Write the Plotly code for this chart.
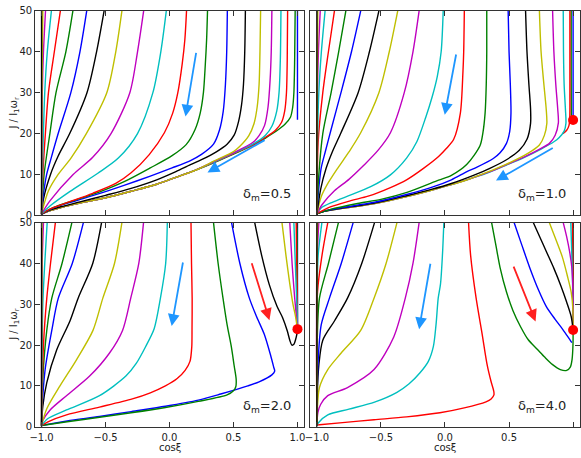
import plotly.graph_objects as go

# ---------------- data ----------------
colors = ["#0000ff", "#008000", "#ff0000", "#00bfbf", "#bf00bf", "#bfbf00", "#000000"]
x_ticks = [-1.0, -0.5, 0.0, 0.5, 1.0]
x_tick_text = ["\u22121.0", "\u22120.5", "0.0", "0.5", "1.0"]
y_ticks = [0, 10, 20, 30, 40, 50]
labels = ["\u03b4<sub>m</sub>=0.5", "\u03b4<sub>m</sub>=1.0", "\u03b4<sub>m</sub>=2.0", "\u03b4<sub>m</sub>=4.0"]

env_05 = [(0.2, 11.0), (0.05, 9.3), (-0.1, 7.6), (-0.3, 5.9), (-0.5, 4.3), (-0.7, 3.0), (-0.85, 1.9), (-0.95, 1.0), (-1.0, 0.3)]
d05 = [
    [(1.0, 50), (1.0, 23.4)],
    [(0.982, 50), (0.978, 38), (0.972, 30), (0.962, 26.3), (0.945, 24.0), (0.9, 22.2), (0.83, 20.5), (0.75, 18.9), (0.65, 17.1), (0.5, 15.0), (0.35, 12.9)] + env_05,
    [(0.923, 50), (0.92, 38), (0.914, 30), (0.9, 25.5), (0.875, 22.7), (0.83, 20.9), (0.75, 19.1), (0.65, 17.2), (0.5, 15.1), (0.35, 13.0)] + env_05,
    [(0.871, 50), (0.866, 38), (0.856, 30), (0.838, 25.5), (0.80, 21.8), (0.75, 19.6), (0.65, 17.4), (0.5, 15.2), (0.35, 13.1)] + env_05,
    [(0.80, 50), (0.795, 40), (0.786, 33), (0.77, 26.5), (0.743, 22.0), (0.70, 19.5), (0.65, 17.8), (0.5, 15.3), (0.35, 13.2)] + env_05,
    [(0.712, 50), (0.707, 40), (0.70, 32), (0.685, 26.5), (0.66, 22.4), (0.62, 19.5), (0.55, 16.9), (0.5, 15.6), (0.35, 13.3)] + env_05,
    [(0.593, 50), (0.588, 40), (0.578, 32), (0.563, 27), (0.54, 23), (0.505, 19.6), (0.45, 17.4), (0.369, 15.6), (0.25, 13.6), (0.164, 12.4), (0.05, 10.7), (-0.1, 8.7), (-0.3, 6.6), (-0.5, 4.9), (-0.7, 3.3), (-0.85, 2.1), (-0.95, 1.1), (-1.0, 0.3)],
    [(0.452, 50), (0.447, 40), (0.437, 32), (0.42, 25.5), (0.39, 20.8), (0.344, 17.4), (0.25, 14.9), (0.164, 13.4), (0.02, 11.6), (-0.15, 9.6), (-0.35, 7.4), (-0.55, 5.3), (-0.75, 3.4), (-0.9, 1.9), (-1.0, 0.35)],
    [(0.297, 50), (0.29, 43), (0.28, 37), (0.265, 30), (0.24, 25), (0.20, 21), (0.13, 17.3), (0.02, 14.6), (-0.15, 11.6), (-0.35, 8.3), (-0.55, 5.7), (-0.75, 3.6), (-0.9, 2.0), (-1.0, 0.4)],
    [(0.133, 50), (0.12, 43), (0.099, 37), (0.065, 30), (0.025, 25), (-0.04, 20.2), (-0.16, 14.8), (-0.3, 10.4), (-0.42, 7.8), (-0.6, 5.4), (-0.8, 3.1), (-0.93, 1.6), (-1.0, 0.4)],
    [(-0.025, 50), (-0.068, 40), (-0.13, 30), (-0.25, 20), (-0.4, 14.0), (-0.56, 10.3), (-0.78, 5.8), (-0.93, 2.4), (-1.0, 0.4)],
    [(-0.202, 50), (-0.25, 40), (-0.31, 30), (-0.457, 20), (-0.6, 14.2), (-0.753, 10), (-0.933, 3.6), (-1.0, 0.4)],
    [(-0.372, 50), (-0.42, 40), (-0.49, 30), (-0.65, 20), (-0.77, 14), (-0.87, 10), (-0.946, 6), (-1.0, 0.4)],
    [(-0.511, 50), (-0.57, 40), (-0.645, 30), (-0.78, 20), (-0.87, 14.5), (-0.93, 10), (-0.985, 4), (-1.0, 0.4)],
    [(-0.647, 50), (-0.70, 40), (-0.771, 30), (-0.87, 20), (-0.925, 14), (-0.96, 10), (-0.99, 4), (-1.0, 0.4)],
    [(-0.755, 50), (-0.81, 40), (-0.887, 30), (-0.935, 20), (-0.98, 10), (-1.0, 0.4)],
    [(-0.853, 50), (-0.90, 40), (-0.946, 30), (-0.97, 20), (-0.99, 10), (-1.0, 0.4)],
    [(-0.923, 50), (-0.955, 40), (-0.975, 30), (-0.99, 15), (-1.0, 0.4)],
    [(-0.969, 50), (-0.985, 40), (-0.994, 30), (-1.0, 0.4)],
    [(-0.99, 50), (-0.997, 30), (-1.0, 0.4)],
    [(-1.0, 50), (-1.0, 0.0)],
]

env_10 = [(0.2, 9.0), (0.05, 7.5), (-0.1, 6.2), (-0.3, 4.6), (-0.55, 2.9), (-0.8, 1.7), (-0.95, 0.9), (-1.0, 0.4)]
d10 = [
    [(1.0, 50), (1.0, 23.3)],
    [(0.985, 50), (0.985, 35), (0.986, 23.5)],
    [(0.975, 50), (0.975, 30), (0.974, 24), (0.968, 22), (0.95, 20.8), (0.92, 20.0)],
    [(0.923, 50), (0.925, 40), (0.93, 32), (0.94, 26), (0.944, 22.5), (0.93, 20.6), (0.89, 19.0), (0.85, 18.0), (0.75, 16.2), (0.62, 14.2), (0.48, 12.3), (0.35, 10.6)] + env_10,
    [(0.84, 50), (0.85, 40), (0.865, 32), (0.88, 26), (0.885, 22.6), (0.86, 19.6), (0.815, 17.6), (0.75, 16.4), (0.62, 14.3), (0.48, 12.4), (0.35, 10.7)] + env_10,
    [(0.737, 50), (0.75, 40), (0.772, 32), (0.79, 26), (0.795, 22.5), (0.775, 19.5), (0.737, 17.2), (0.65, 15.2), (0.48, 12.5), (0.35, 10.8)] + env_10,
    [(0.629, 50), (0.64, 40), (0.655, 32), (0.668, 26), (0.668, 22.5), (0.64, 18.6), (0.58, 15.9), (0.48, 13.6), (0.35, 11.5), (0.222, 9.8), (0.05, 7.8), (-0.1, 6.4), (-0.3, 4.8), (-0.55, 3.0), (-0.8, 1.8), (-0.95, 0.95), (-1.0, 0.4)],
    [(0.493, 50), (0.50, 40), (0.51, 32), (0.515, 25), (0.505, 20.5), (0.48, 17.6), (0.43, 15.3), (0.377, 13.9), (0.25, 11.8), (0.171, 10.7), (0.05, 8.7), (-0.1, 6.9), (-0.3, 5.1), (-0.55, 3.2), (-0.8, 1.9), (-0.95, 1.0), (-1.0, 0.4)],
    [(0.326, 50), (0.326, 40), (0.322, 32), (0.313, 25), (0.295, 20), (0.274, 17.1), (0.171, 12.5), (0.05, 9.8), (-0.05, 8.6), (-0.297, 5.6), (-0.5, 3.9), (-0.683, 2.9), (-0.9, 1.4), (-1.0, 0.4)],
    [(0.151, 50), (0.146, 40), (0.14, 35), (0.12, 25), (0.068, 18.6), (0.012, 16.4), (-0.05, 14.4), (-0.168, 11.5), (-0.3, 8.7), (-0.426, 6.8), (-0.6, 4.7), (-0.735, 3.6), (-0.9, 2.0), (-1.0, 0.4)],
    [(-0.014, 50), (-0.03, 40), (-0.06, 34), (-0.1, 29), (-0.15, 24), (-0.22, 18), (-0.3, 14), (-0.426, 9.9), (-0.58, 7.0), (-0.735, 5.0), (-0.88, 3.2), (-0.967, 1.8), (-1.0, 0.4)],
    [(-0.202, 50), (-0.25, 40), (-0.318, 30), (-0.426, 20.2), (-0.52, 16), (-0.632, 12.3), (-0.75, 8.8), (-0.863, 6.0), (-0.96, 2.6), (-1.0, 0.4)],
    [(-0.369, 50), (-0.435, 40), (-0.516, 30), (-0.658, 20.2), (-0.75, 15.5), (-0.838, 11.5), (-0.92, 7.5), (-0.967, 4.5), (-1.0, 0.4)],
    [(-0.516, 50), (-0.59, 40), (-0.678, 30), (-0.812, 20.2), (-0.88, 15.5), (-0.928, 11.5), (-0.97, 6.5), (-1.0, 0.4)],
    [(-0.658, 50), (-0.73, 40), (-0.812, 30), (-0.889, 21), (-0.935, 15.5), (-0.967, 11.5), (-0.99, 5), (-1.0, 0.4)],
    [(-0.774, 50), (-0.83, 40), (-0.889, 30), (-0.954, 20), (-0.985, 10), (-1.0, 0.4)],
    [(-0.863, 50), (-0.91, 40), (-0.954, 30), (-0.99, 18), (-1.0, 0.4)],
    [(-0.936, 50), (-0.965, 40), (-0.985, 30), (-0.997, 15), (-1.0, 0.4)],
    [(-0.974, 50), (-0.988, 40), (-0.996, 30), (-1.0, 0.4)],
    [(-0.993, 50), (-0.998, 30), (-1.0, 0.4)],
    [(-1.0, 50), (-1.0, 0.0)],
]

d20 = [
    [(1.0, 50), (1.0, 23.9)],
    [(0.997, 50), (0.999, 35), (1.0, 23.9)],
    [(0.99, 50), (0.994, 40), (0.998, 32), (1.0, 23.9)],
    [(0.972, 50), (0.983, 40), (0.993, 32), (0.998, 27), (1.0, 23.9)],
    [(0.94, 50), (0.958, 40), (0.977, 32), (0.99, 27.5), (1.0, 23.9)],
    [(0.879, 50), (0.91, 42), (0.94, 35), (0.965, 30), (0.985, 27), (1.0, 23.9)],
    [(0.666, 50), (0.72, 42), (0.781, 34.7), (0.84, 29.5), (0.884, 26.7), (0.92, 23.5), (0.94, 21.2), (0.956, 20.0), (0.972, 20.2), (0.985, 21.3), (0.995, 22.6), (1.0, 23.9)],
    [(0.485, 50), (0.55, 40), (0.624, 31.5), (0.68, 27), (0.74, 22.7), (0.79, 17.5), (0.815, 14.5), (0.822, 13.6), (0.80, 12.7), (0.70, 11.0), (0.612, 10.0), (0.4, 8.0), (0.225, 6.5), (-0.032, 5.0), (-0.3, 3.7), (-0.547, 2.5), (-0.8, 1.4), (-1.0, 0.3)],
    [(0.344, 50), (0.38, 40), (0.418, 31.5), (0.45, 25), (0.483, 19.6), (0.505, 15), (0.521, 11.6), (0.518, 9.8), (0.5, 8.8), (0.45, 7.8), (0.225, 6.2), (-0.032, 4.7), (-0.3, 3.4), (-0.547, 2.3), (-0.8, 1.2), (-1.0, 0.3)],
    [(0.168, 50), (0.172, 40), (0.177, 31.5), (0.176, 24), (0.174, 19.6), (0.16, 16), (0.122, 13.8), (0.06, 11.8), (-0.032, 10.0), (-0.15, 8.3), (-0.29, 6.8), (-0.547, 4.8), (-0.805, 2.9), (-0.95, 1.2), (-1.0, 0.3)],
    [(-0.017, 50), (-0.03, 40), (-0.071, 31.5), (-0.12, 24), (-0.187, 19.6), (-0.26, 15.5), (-0.341, 12.4), (-0.547, 7.6), (-0.805, 4.1), (-0.95, 2.0), (-1.0, 0.3)],
    [(-0.203, 50), (-0.24, 40), (-0.303, 31.5), (-0.367, 23.6), (-0.47, 18.0), (-0.624, 12.4), (-0.805, 7.6), (-0.933, 4.1), (-0.99, 1.5), (-1.0, 0.3)],
    [(-0.372, 50), (-0.43, 40), (-0.521, 31.5), (-0.598, 23.6), (-0.727, 16.4), (-0.856, 10), (-0.959, 4.4), (-1.0, 0.3)],
    [(-0.531, 50), (-0.6, 40), (-0.714, 31.5), (-0.778, 25.9), (-0.882, 18.8), (-0.959, 10.8), (-0.99, 5), (-1.0, 0.3)],
    [(-0.673, 50), (-0.76, 40), (-0.869, 31.5), (-0.92, 23.6), (-0.972, 14), (-0.995, 5), (-1.0, 0.3)],
    [(-0.763, 50), (-0.84, 40), (-0.92, 31.5), (-0.959, 23.6), (-0.99, 12), (-1.0, 0.3)],
    [(-0.892, 50), (-0.93, 40), (-0.959, 31.5), (-0.985, 20), (-1.0, 0.3)],
    [(-0.956, 50), (-0.975, 40), (-0.99, 30), (-1.0, 0.3)],
    [(-0.985, 50), (-0.995, 40), (-1.0, 20), (-1.0, 0.3)],
    [(-0.997, 50), (-1.0, 0.3)],
    [(-1.0, 50), (-1.0, 0.0)],
]

d40 = [
    [(1.0, 50), (1.0, 23.7)],
    [(0.999, 50), (1.0, 23.7)],
    [(0.995, 50), (0.998, 40), (1.0, 23.7)],
    [(0.982, 50), (0.99, 42), (0.996, 35), (1.0, 28), (1.0, 23.7)],
    [(0.923, 50), (0.95, 46.5), (0.972, 43), (0.99, 39), (0.998, 34), (1.0, 28), (1.0, 23.7)],
    [(0.815, 50), (0.87, 45.5), (0.917, 41.5), (0.955, 37), (0.985, 33), (0.998, 29), (1.0, 23.7)],
    [(0.69, 50), (0.74, 46.5), (0.79, 43), (0.85, 38.8), (0.905, 34.5), (0.95, 30.5), (0.985, 27), (1.0, 23.7)],
    [(0.54, 50), (0.6, 44.5), (0.66, 39.1), (0.73, 33.5), (0.79, 29.5), (0.86, 26.3), (0.92, 23.8), (0.96, 22), (0.99, 20.6)],
    [(0.364, 50), (0.40, 44), (0.43, 39), (0.48, 33), (0.53, 28.5), (0.59, 24.5), (0.65, 21.3), (0.72, 19), (0.78, 17), (0.84, 15.2), (0.9, 14.0), (0.95, 13.8), (0.978, 14.6), (0.992, 16.5), (0.999, 20), (1.0, 23.7)],
    [(0.184, 50), (0.2, 42), (0.243, 31.5), (0.29, 22.7), (0.33, 15), (0.36, 11), (0.38, 8.8), (0.382, 7.8), (0.36, 6.8), (0.32, 6.1), (0.15, 4.6), (-0.04, 3.4), (-0.3, 2.4), (-0.554, 1.7), (-0.8, 1.0), (-1.0, 0.4)],
    [(-0.009, 50), (-0.02, 42), (-0.035, 35), (-0.053, 31.5), (-0.07, 25), (-0.091, 19.6), (-0.13, 16), (-0.195, 13.2), (-0.28, 10.5), (-0.375, 8.4), (-0.55, 6.0), (-0.75, 4.3), (-0.915, 2.9), (-0.99, 0.9), (-1.0, 0.3)],
    [(-0.202, 50), (-0.25, 40), (-0.31, 31.5), (-0.4, 22), (-0.554, 14), (-0.761, 9.6), (-0.915, 7.6), (-0.97, 5.5), (-0.992, 3.5), (-1.0, 0.4)],
    [(-0.375, 50), (-0.46, 40), (-0.554, 31.5), (-0.658, 23.6), (-0.812, 18), (-0.915, 14), (-0.98, 9.6), (-0.997, 4), (-1.0, 0.4)],
    [(-0.55, 50), (-0.65, 40), (-0.761, 31.5), (-0.863, 25.9), (-0.954, 21.2), (-0.985, 15), (-0.997, 8), (-1.0, 0.4)],
    [(-0.717, 50), (-0.81, 40), (-0.902, 31.5), (-0.966, 25), (-0.992, 15), (-1.0, 0.4)],
    [(-0.832, 50), (-0.91, 40), (-0.98, 31.5), (-0.998, 20), (-1.0, 0.4)],
    [(-0.915, 50), (-0.96, 42), (-0.995, 33), (-1.0, 0.4)],
    [(-0.961, 50), (-0.99, 42), (-1.0, 30), (-1.0, 0.4)],
    [(-0.985, 50), (-1.0, 40), (-1.0, 0.4)],
    [(-0.995, 50), (-1.0, 40), (-1.0, 0.4)],
    [(-1.0, 50), (-1.0, 0.0)],
]

# arrows: (tail_x, tail_y, head_x, head_y, color)
arrows_05 = [(0.21, 40.1, 0.125, 24.2, "#1e96ff"), (0.755, 18.6, 0.297, 10.5, "#1e96ff")]
arrows_10 = [(0.089, 39.7, -0.002, 24.6, "#1e96ff"), (0.853, 16.7, 0.398, 8.5, "#1e96ff")]
arrows_20 = [(0.107, 40.6, 0.017, 24.7, "#1e96ff"), (0.639, 40.4, 0.781, 26.1, "#ff2020")]
arrows_40 = [(-0.112, 40.3, -0.202, 23.9, "#1e96ff"), (0.531, 39.6, 0.707, 25.8, "#ff2020")]

# fixed points (red dots)
dots_10 = [(1.0, 23.3)]
dots_20 = [(1.0, 23.9)]
dots_40 = [(1.0, 23.7)]

# ---------------- figure ----------------
W, H = 581, 458
panels = [
    ("x", "y", d05, arrows_05, [], labels[0]),
    ("x2", "y2", d10, arrows_10, dots_10, labels[1]),
    ("x3", "y3", d20, arrows_20, dots_20, labels[2]),
    ("x4", "y4", d40, arrows_40, dots_40, labels[3]),
]

fig = go.Figure()
annotations = []
for xa, ya, curves, arrows, dots, lab in panels:
    for i, c in enumerate(curves):
        fig.add_trace(go.Scatter(
            x=[p[0] for p in c], y=[p[1] for p in c], mode="lines",
            line=dict(color=colors[i % 7], width=1.4, shape="spline", smoothing=0.8),
            xaxis=xa, yaxis=ya, showlegend=False, hoverinfo="skip"))
    for d in dots:
        fig.add_trace(go.Scatter(
            x=[d[0]], y=[d[1]], mode="markers",
            marker=dict(color="#ff0000", size=10, line=dict(width=0)),
            xaxis=xa, yaxis=ya, showlegend=False, cliponaxis=False, hoverinfo="skip"))
    for tx, ty, hx, hy, col in arrows:
        annotations.append(dict(
            x=hx, y=hy, ax=tx, ay=ty, xref=xa, yref=ya, axref=xa, ayref=ya,
            text="", showarrow=True, arrowhead=2, arrowsize=1.3, arrowwidth=1.8,
            arrowcolor=col))
    annotations.append(dict(
        x=0.958, y=0.1, xref=xa + " domain", yref=ya + " domain",
        text=lab, showarrow=False, xanchor="right", yanchor="middle",
        font=dict(family="DejaVu Sans", size=13, color="#222")))

# axis titles
title_font = dict(family="DejaVu Sans", size=10, color="#222")
for yc in (110, 327):
    annotations.append(dict(x=8.5 / W, y=1 - yc / H, xref="paper", yref="paper",
                            xanchor="center", yanchor="middle",
                            text="J / I<sub>1</sub>\u03c9<sub>r</sub>", textangle=-90,
                            showarrow=False, font=title_font))
for xc in (165.5, 444.5):
    annotations.append(dict(x=xc / W, y=1 - 453 / H, xref="paper", yref="paper",
                            xanchor="center", yanchor="middle",
                            text="cos\u03be", showarrow=False, font=title_font))

xl = [29.5 / W, 301.5 / W]
xr = [308.2 / W, 580.5 / W]
yt = [(H - 215) / H, (H - 5) / H]
yb = [(H - 432) / H, (H - 222.5) / H]

common = dict(showline=True, mirror="allticks", ticks="inside", ticklen=5,
              linecolor="#333", tickcolor="#333", linewidth=1, showgrid=False,
              zeroline=False, tickfont=dict(family="DejaVu Sans", size=10, color="#222"))


def xax(dom, anchor, labels_on):
    return dict(domain=dom, anchor=anchor, range=[-1.05, 1.05], tickvals=x_ticks,
                ticktext=x_tick_text, showticklabels=labels_on, ticklabelstandoff=1, **common)


def yax(dom, anchor, labels_on):
    return dict(domain=dom, anchor=anchor, range=[0, 50], tickvals=y_ticks,
                showticklabels=labels_on, **common)


fig.update_layout(
    width=W, height=H, margin=dict(l=0, r=0, t=0, b=0),
    paper_bgcolor="white", plot_bgcolor="white",
    xaxis=xax(xl, "y", False), yaxis=yax(yt, "x", True),
    xaxis2=xax(xr, "y2", False), yaxis2=yax(yt, "x2", False),
    xaxis3=xax(xl, "y3", True), yaxis3=yax(yb, "x3", True),
    xaxis4=xax(xr, "y4", True), yaxis4=yax(yb, "x4", False),
    annotations=annotations,
    font=dict(family="DejaVu Sans"),
    hovermode=False,
)

fig.write_html("out.html", config={"displayModeBar": False, "staticPlot": True},
               post_script="document.body.style.margin='0';document.body.style.overflow='hidden';")
